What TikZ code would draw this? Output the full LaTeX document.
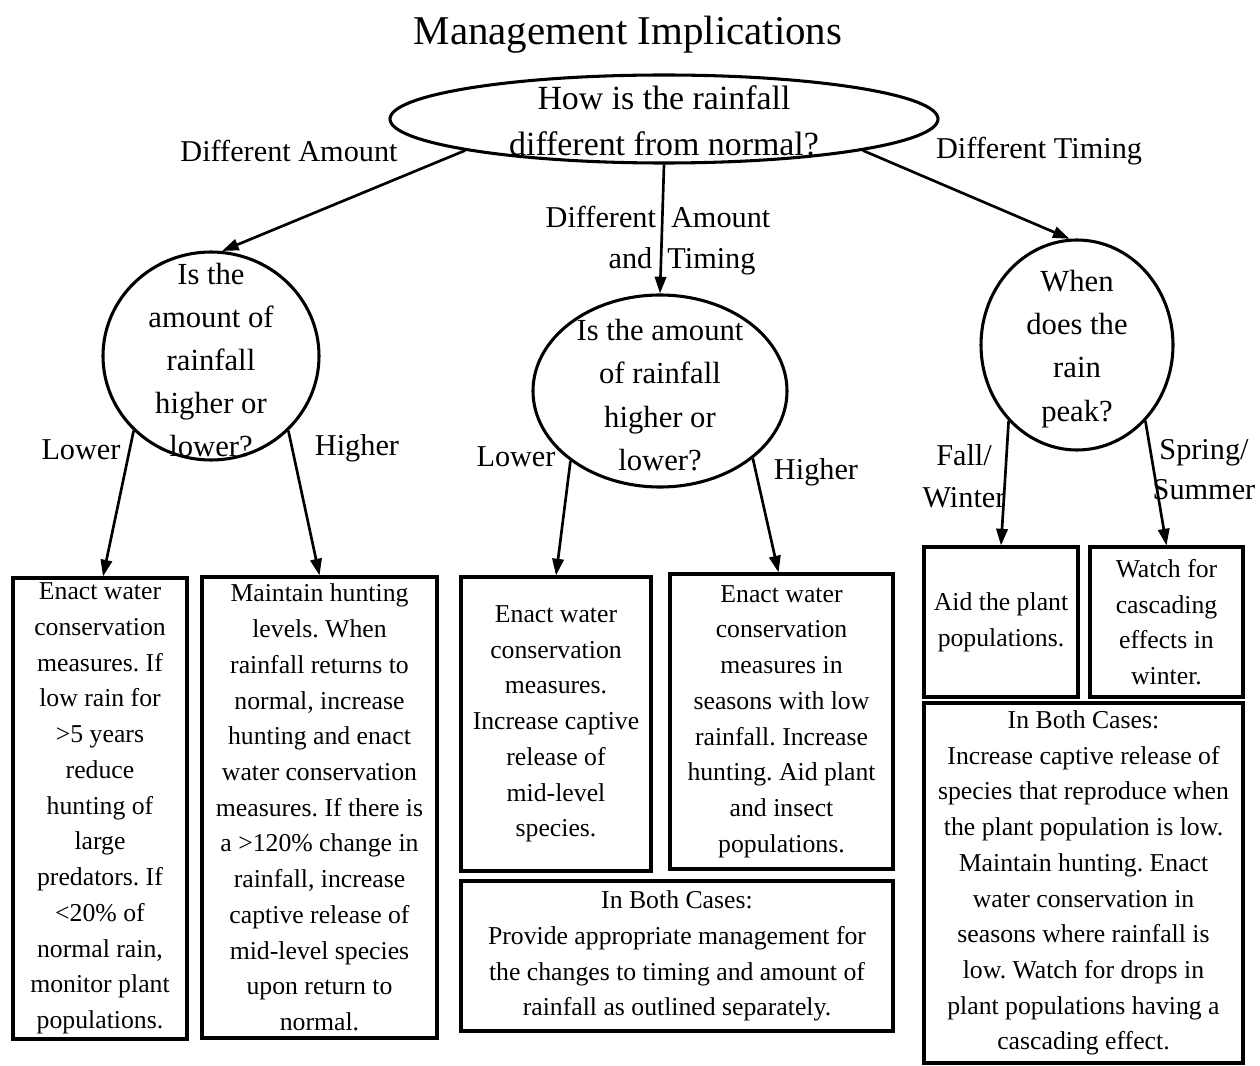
\documentclass[tikz,border=0pt]{standalone}
\usepackage{fontspec}
\setmainfont{Liberation Serif}
\usetikzlibrary{arrows.meta,shapes.geometric,calc}
\begin{document}
\frenchspacing
\begin{tikzpicture}[x=0.75pt,y=-0.75pt,
  shapeline/.style={draw=black,line width=2.3pt},
  oval/.style={shapeline,ellipse,inner sep=0pt},
  boxnode/.style={shapeline,rectangle,inner sep=0pt,align=center,font=\fontsize{19.3}{26.8}\selectfont},
  lbl/.style={inner sep=0pt,align=center,font=\fontsize{22.7}{31.5}\selectfont},
  qtext/.style={inner sep=0pt,align=center,font=\fontsize{23}{32.4}\selectfont},
  conn/.style={line width=2pt,-{Triangle[length=12.5pt,width=8.5pt]}}
]
\useasboundingbox (0,0) rectangle (1260,1066);

% title
\node[inner sep=0pt,font=\fontsize{30.7}{36}\selectfont] (title) at (628,35) {Management Implications};

% question shapes
\node[oval,minimum width=411pt,minimum height=66pt] (q0) at (664,119) {};
\node[inner sep=0pt,align=center,font=\fontsize{25.4}{34.5}\selectfont] (q0t) at (664,121) {How is the rainfall\\different from normal?};

\node[oval,minimum width=162pt,minimum height=156pt] (q1) at (211,356) {};
\node[qtext] (q1t) at (211,360) {Is the\\amount of\\rainfall\\higher or\\lower?};

\node[oval,minimum width=190.5pt,minimum height=144pt] (q2) at (660,391) {};
\node[qtext] (q2t) at (660,395) {Is the amount\\of rainfall\\higher or\\lower?};

\node[oval,minimum width=144pt,minimum height=157.5pt] (q3) at (1077,345) {};
\node[qtext] (q3t) at (1077,349) {When\\does the\\rain\\peak?};

% boxes
\node[boxnode,minimum width=130.5pt,minimum height=345.75pt] (b1) at (100,808.5)
  {Enact water\\conservation\\measures. If\\low rain for\\>5 years\\reduce\\hunting of\\large\\predators. If\\<20\% of\\normal rain,\\monitor plant\\populations.};
\node[boxnode,minimum width=176.25pt,minimum height=345.75pt] (b2) at (319.5,807.5)
  {Maintain hunting\\levels. When\\rainfall returns to\\normal, increase\\hunting and enact\\water conservation\\measures. If there is\\a >120\% change in\\rainfall, increase\\captive release of\\mid-level species\\upon return to\\normal.};
\node[boxnode,minimum width=142.5pt,minimum height=220.5pt] (b3) at (556,724)
  {Enact water\\conservation\\measures.\\Increase captive\\release of\\mid-level\\species.};
\node[boxnode,minimum width=167.25pt,minimum height=221.25pt] (b4) at (781.5,721.5)
  {Enact water\\conservation\\measures in\\seasons with low\\rainfall. Increase\\hunting. Aid plant\\and insect\\populations.};
\node[boxnode,minimum width=324pt,minimum height=112.5pt] (b5) at (677,956)
  {In Both Cases:\\Provide appropriate management for\\the changes to timing and amount of\\rainfall as outlined separately.};
\node[boxnode,minimum width=115.5pt,minimum height=112.5pt] (b6) at (1001,622)
  {Aid the plant\\populations.};
\node[boxnode,minimum width=114.75pt,minimum height=112.5pt] (b7) at (1166.5,622)
  {Watch for\\cascading\\effects in\\winter.};
\node[boxnode,minimum width=239.25pt,minimum height=270pt] (b8) at (1083.5,883)
  {In Both Cases:\\Increase captive release of\\species that reproduce when\\the plant population is low.\\Maintain hunting. Enact\\water conservation in\\seasons where rainfall is\\low. Watch for drops in\\plant populations having a\\cascading effect.};

% connectors
\draw[conn] (q0.189) -- (q1.84);
\draw[conn] (q0.south) -- (q2.north);
\draw[conn] (q0.351) -- (q3.94);
\draw[conn] (q1.224) -- ($(b1.north)+(3,0)$);
\draw[conn] (q1.316) -- (b2.north);
\draw[conn] (q2.218) -- (b3.north);
\draw[conn] (q2.324) -- ($(b4.north)+(-3,0)$);
\draw[conn] (q3.228) -- (b6.north);
\draw[conn] (q3.312) -- (b7.north);

% labels
\node[lbl] (l1) at (289,151) {Different Amount};
\node[lbl] (l2) at (1039,151) {Different Timing};
\node[lbl] (l3a) at (658,217) {Different~ Amount};
\node[lbl] (l3b) at (682,261) {and~ Timing};
\node[lbl] (l4) at (81,450) {Lower};
\node[lbl] (l5) at (357,448) {Higher};
\node[lbl] (l6) at (516,457) {Lower};
\node[lbl] (l7) at (816,472) {Higher};
\node[lbl] (l8) at (964,476) {Fall/\\Winter};
\node[lbl,font=\fontsize{22.7}{30}\selectfont] (l9) at (1204,470) {Spring/\\Summer};
\end{tikzpicture}
\end{document}
